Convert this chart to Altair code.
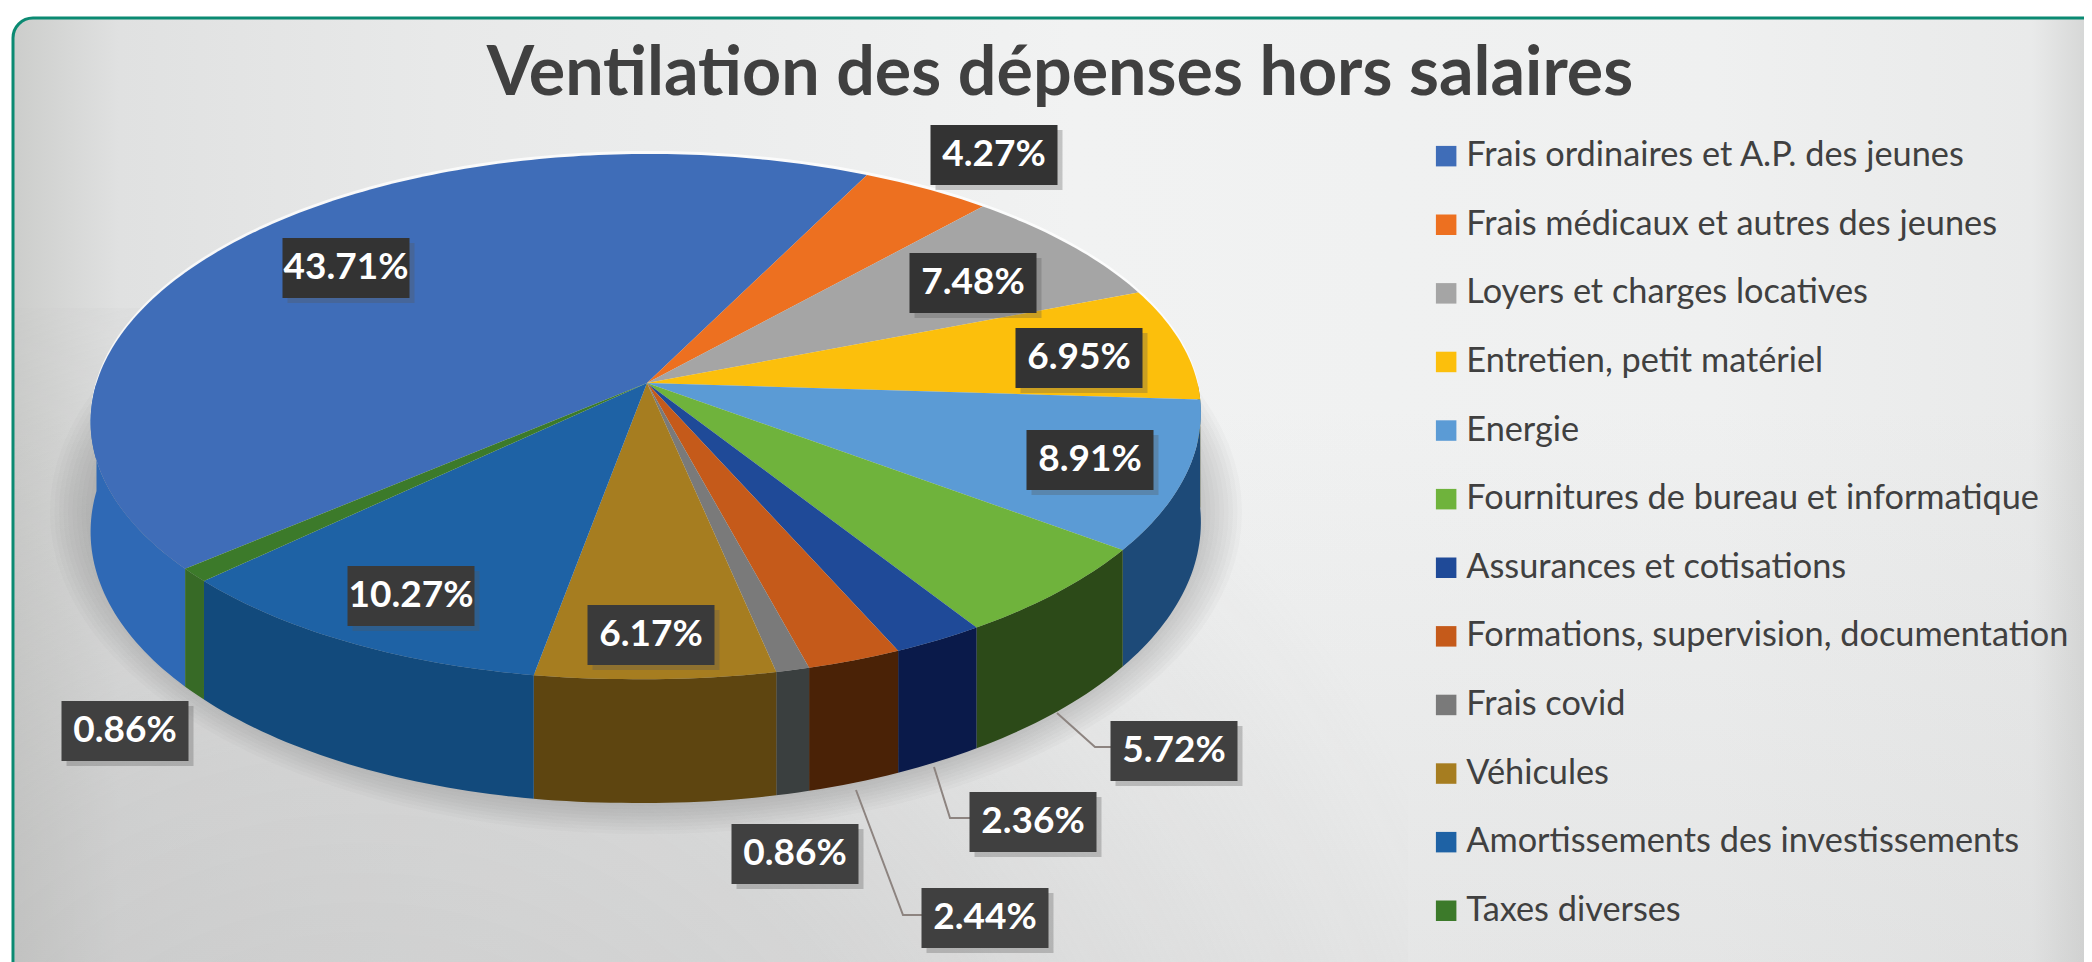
import math
import altair as alt

title_text = "Ventilation des dépenses hors salaires"
categories = ["Frais ordinaires et A.P. des jeunes", "Frais médicaux et autres des jeunes",
              "Loyers et charges locatives", "Entretien, petit matériel", "Energie",
              "Fournitures de bureau et informatique", "Assurances et cotisations",
              "Formations, supervision, documentation", "Frais covid", "Véhicules",
              "Amortissements des investissements", "Taxes diverses"]
values = [43.71, 4.27, 7.48, 6.95, 8.91, 5.72, 2.36, 2.44, 0.86, 6.17, 10.27, 0.86]
top_colors = ["#3f6db8", "#ed7020", "#a5a5a5", "#fcbf0c", "#5b9bd5", "#6fb33c",
              "#1f4a98", "#c55a1a", "#7a7a7a", "#a67d20", "#1e62a5", "#3c7a2a"]
side_colors = ["#2f69b5", "#9a4a10", "#6a6a6a", "#a07a08", "#1d4a78", "#2c4a18",
               "#0a1a4a", "#4a2206", "#3a3f3f", "#5e4510", "#124a7c", "#376a26"]
label_texts = [f"{v:.2f}%" for v in values]
label_fill = ["#333333", "#333333", "#333333", "#333333", "#333333", "#404040",
              "#404040", "#404040", "#404040", "#3a3a3a", "#3a3a3a", "#404040"]

# layout of the annotation boxes, page pixels
label_x = [346, 994, 973, 1079, 1090, 1174, 1033, 985, 795, 651, 411, 125]
label_y = [268, 155, 283, 358, 460, 751, 822, 918, 854, 635, 596, 731]
leaders = {"5.72": [(1057, 713), (1095, 747), (1111, 747)],
           "2.36": [(934, 767), (950, 818), (970, 818)],
           "2.44": [(856, 790), (903, 915), (922, 915)]}

OX, OY = 8, 8
W, H = 2076, 954
APEX = (647, 383)
A, B, P, C, E, F = 258.3, 550.5, 0.1276, 8.9, 6.8, 10.0
DEPTH = 108.0
START = 228.8


def rim(t, down=0.0):
    u, v = math.sin(math.radians(t)), math.cos(math.radians(t))
    w = 1 + P * v
    bulge = F * max(0.0, u) * max(0.0, -v)
    return [APEX[0] + (B * u + C * v - E * v * v) / w - OX,
            APEX[1] - A * v / w + bulge + down / w - OY]


def arc_angles(a, b, step=1.0):
    n = max(2, int((b - a) / step))
    return [a + (b - a) * i / n for i in range(n + 1)]


def feature(name, ring):
    return {"type": "Feature", "properties": {"name": name},
            "geometry": {"type": "Polygon", "coordinates": [ring + [ring[0]]]}}


top_features, side_features = [], []
angle = START
for name, val, sc in zip(categories, values, side_colors):
    end = angle + val * 3.6
    top_features.append(feature(name, [[APEX[0] - OX, APEX[1] - OY]] + [rim(t) for t in arc_angles(angle, end)]))
    for shift in (0, 360, -360):
        a, b = max(angle + shift, 90), min(end + shift, 270)
        if b > a:
            ts = arc_angles(a, b)
            ring = [rim(t) for t in ts] + [rim(t, DEPTH) for t in reversed(ts)]
            f = feature(name, ring)
            f["properties"]["side"] = sc
            side_features.append(f)
    angle = end

# soft shadow under the pie
shadow_features = []
for k in range(14):
    rx, ry = 596 - k * 4.5, 322 - k * 3.5
    ring = [[646 - OX + rx * math.sin(math.radians(t)), 512 - OY + ry * math.cos(math.radians(t))]
            for t in range(0, 360, 3)]
    shadow_features.append(feature("shadow", ring))

# pale rim of light behind the back of the pie
halo_ring = [[p[0], p[1] - 3] for p in (rim(t) for t in range(0, 360, 2))]

PROJ = dict(type="identity", scale=1, translate=[0, 0])
empty = alt.Data(values=[{}])

panel = alt.Chart(empty).mark_rect(
    cornerRadius=20, stroke="#0b8a72", strokeWidth=3,
    fill=alt.Gradient(gradient="linear", x1=0, y1=0, x2=1, y2=0, stops=[
        alt.GradientStop(color="#cccdcb", offset=0),
        alt.GradientStop(color="#e0e1e1", offset=0.05),
        alt.GradientStop(color="#e8e9e9", offset=0.2),
        alt.GradientStop(color="#f1f2f2", offset=0.5),
        alt.GradientStop(color="#eff0f0", offset=0.8),
        alt.GradientStop(color="#e9eaea", offset=0.95),
        alt.GradientStop(color="#cfd0cf", offset=0.985),
        alt.GradientStop(color="#cfd0cf", offset=1)])
).encode(x=alt.value(5), x2=alt.value(2130), y=alt.value(10), y2=alt.value(1040))

floor = alt.Chart(empty).mark_rect(
    fill=alt.Gradient(gradient="linear", x1=0, y1=0, x2=0, y2=1, stops=[
        alt.GradientStop(color="rgba(180,180,180,0)", offset=0),
        alt.GradientStop(color="rgba(180,180,180,0.18)", offset=1)])
).encode(x=alt.value(7), x2=alt.value(2076), y=alt.value(400), y2=alt.value(954))

corner = alt.Chart(empty).mark_rect(
    fill=alt.Gradient(gradient="radial", x1=0.25, y1=1, r1=0, x2=0.25, y2=1, r2=0.85, stops=[
        alt.GradientStop(color="rgba(180,180,180,0.38)", offset=0),
        alt.GradientStop(color="rgba(180,180,180,0.3)", offset=0.5),
        alt.GradientStop(color="rgba(180,180,180,0)", offset=1)])
).encode(x=alt.value(7), x2=alt.value(1400), y=alt.value(300), y2=alt.value(954))

shadow = alt.Chart(alt.Data(values=shadow_features)).mark_geoshape(
    fill="#6e6e6e", fillOpacity=0.03, strokeWidth=0).project(**PROJ)

halo = alt.Chart(alt.Data(values=[feature("halo", halo_ring)])).mark_geoshape(
    fill="#ffffff", fillOpacity=0.75, strokeWidth=0).project(**PROJ)

sides = alt.Chart(alt.Data(values=side_features)).mark_geoshape(strokeWidth=0).encode(
    fill=alt.Fill("properties.side:N", scale=None)).project(**PROJ)

tops = alt.Chart(alt.Data(values=top_features)).mark_geoshape(strokeWidth=0).encode(
    fill=alt.Fill("properties.name:N", sort=None,
                  scale=alt.Scale(domain=categories, range=top_colors),
                  legend=alt.Legend(orient="none", legendX=1421, legendY=131, title=None,
                                    direction="vertical", columns=1,
                                    symbolType="square", symbolSize=420, symbolStrokeWidth=0,
                                    labelFont="Lato", labelFontSize=34.3, labelColor="#404040",
                                    labelLimit=900, labelOffset=3, rowPadding=33.6))).project(**PROJ)

X = alt.X("x:Q", scale=alt.Scale(domain=[0, W]), axis=None)
Y = alt.Y("y:Q", scale=alt.Scale(domain=[H, 0]), axis=None)

leader_rows = [{"id": k, "i": i, "x": p[0] - OX, "y": p[1] - OY}
               for k, pts in leaders.items() for i, p in enumerate(pts)]
lines = alt.Chart(alt.Data(values=leader_rows)).mark_line(color="#8d8480", strokeWidth=2).encode(
    x=X, y=Y, detail="id:N", order="i:Q")

label_rows = [{"x": x - OX, "y": y - OY, "t": t, "c": c}
              for x, y, t, c in zip(label_x, label_y, label_texts, label_fill)]
labels = alt.Chart(alt.Data(values=label_rows))
box_shadow = labels.mark_rect(width=127, height=60, xOffset=5, yOffset=5, fill="#555555", opacity=0.3).encode(x=X, y=Y)
box = labels.mark_rect(width=127, height=60).encode(x=X, y=Y, fill=alt.Fill("c:N", scale=None))
text = labels.mark_text(font="Lato", fontWeight="bold", fontSize=37, color="white",
                        align="center", baseline="middle").encode(x=X, y=Y, text="t:N")

title = alt.Chart(alt.Data(values=[{"t": title_text}])).mark_text(
    font="Lato", fontWeight="bold", fontSize=68.2, color="#404040", align="center", baseline="middle"
).encode(x=alt.value(1052), y=alt.value(67), text="t:N")

chart = alt.layer(panel, floor, corner, shadow, halo, sides, tops, lines, box_shadow, box, text, title).resolve_scale(
    fill="independent"
).properties(
    width=W, height=H, padding=0, background="white",
    autosize=alt.AutoSizeParams(type="none"),
).configure_view(stroke=None)

chart.save("out.html", embed_options={"renderer": "svg", "actions": False})
